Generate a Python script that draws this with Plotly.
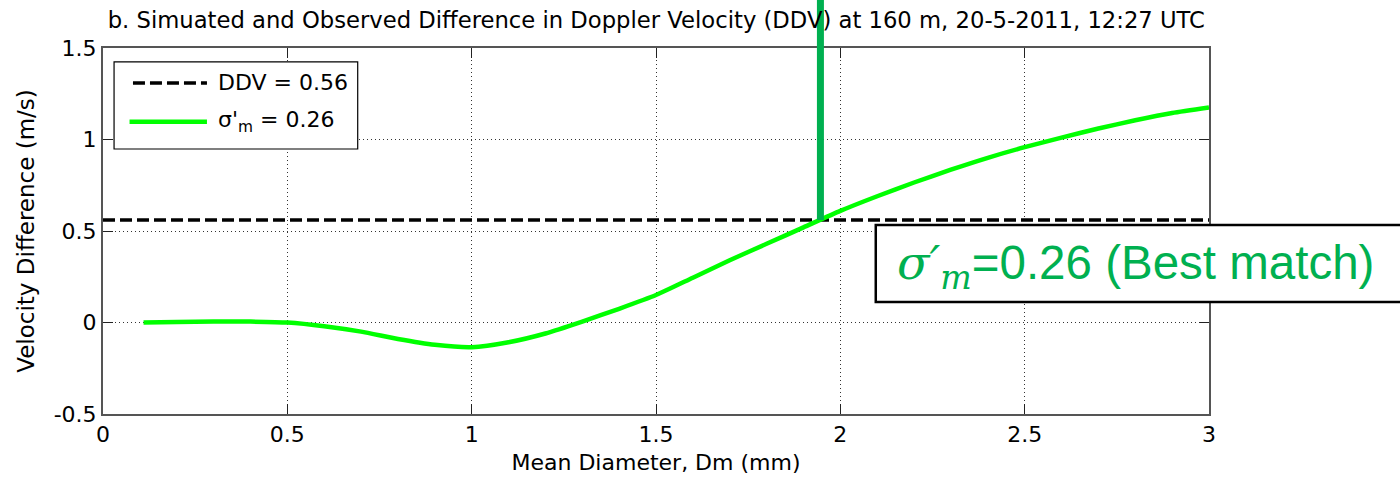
import plotly.graph_objects as go

# Simulated DDV curve vs. mean drop diameter
dm_mm = [0.11, 0.2, 0.3, 0.4, 0.5, 0.6, 0.7, 0.8, 0.9, 1.0, 1.1, 1.2, 1.3, 1.4, 1.5,
         1.6, 1.7, 1.8, 1.9, 2.0, 2.1, 2.2, 2.3, 2.4, 2.5, 2.6, 2.7, 2.8, 2.9, 3.0]
ddv_sim = [0.0, 0.003, 0.006, 0.005, 0.0, -0.02, -0.05, -0.09, -0.122, -0.135, -0.108, -0.06,
           0.005, 0.075, 0.15, 0.245, 0.34, 0.43, 0.52, 0.61, 0.69, 0.765, 0.835, 0.9, 0.958,
           1.01, 1.06, 1.105, 1.145, 1.175]

# Observed DDV and best-matching sigma'_m
ddv_obs = 0.56
sigma_m = 0.26
dm_best = 1.946

x_range = [0, 3]
y_range = [-0.5, 1.5]
x_ticks = [0, 0.5, 1, 1.5, 2, 2.5, 3]
y_ticks = [-0.5, 0, 0.5, 1, 1.5]

FONT = "DejaVu Sans"
GREEN_BAR = "#00B050"

fig = go.Figure()

fig.add_trace(go.Scatter(
    x=x_range, y=[ddv_obs, ddv_obs], mode="lines",
    line=dict(color="black", width=3.5, dash="12px,5px"),
    name=f"DDV = {ddv_obs}", showlegend=False, hoverinfo="skip"))

fig.add_trace(go.Scatter(
    x=dm_mm, y=ddv_sim, mode="lines",
    line=dict(color="#00FF00", width=4.5, shape="spline", smoothing=0.6),
    name=f"σ'<sub>m</sub> = {sigma_m}", showlegend=False))

def px_x(v):
    return (v - x_range[0]) / (x_range[1] - x_range[0])

def px_y(v):
    return (v - y_range[0]) / (y_range[1] - y_range[0])

shapes = []
annotations = []

# legend box drawn in paper coordinates
shapes.append(dict(type="rect", xref="paper", yref="paper", x0=0.0100, x1=0.2303,
                   y0=0.724, y1=0.962, line=dict(color="black", width=1.2),
                   fillcolor="white", layer="above"))
shapes.append(dict(type="line", xref="paper", yref="paper", x0=0.0271, x1=0.0940,
                   y0=0.9044, y1=0.9044,
                   line=dict(color="black", width=3.5, dash="12px,5px"), layer="above"))
shapes.append(dict(type="line", xref="paper", yref="paper", x0=0.0240, x1=0.0940,
                   y0=0.7987, y1=0.7987,
                   line=dict(color="#00FF00", width=4.5), layer="above"))
annotations.append(dict(xref="paper", yref="paper", x=0.1022, y=0.9044, xanchor="left",
                        yanchor="middle", showarrow=False, text=f"DDV = {ddv_obs}",
                        font=dict(family=FONT, size=22, color="black")))
annotations.append(dict(xref="paper", yref="paper", x=0.1022, y=0.8, xanchor="left",
                        yanchor="middle", showarrow=False,
                        text=f"σ'<sub>m</sub> = {sigma_m}",
                        font=dict(family=FONT, size=22, color="black")))

# best-match marker: vertical bar from the DDV level up past the top of the axes
shapes.append(dict(type="line", xref="paper", yref="paper",
                   x0=px_x(dm_best), x1=px_x(dm_best), y0=px_y(ddv_obs), y1=1.14,
                   line=dict(color=GREEN_BAR, width=7), layer="above"))

# callout box
shapes.append(dict(type="rect", xref="paper", yref="paper", x0=0.6987, x1=1.3,
                   y0=0.306, y1=0.5164, line=dict(color="black", width=2.5),
                   fillcolor="white", layer="above"))
annotations.append(dict(
    xref="paper", yref="paper", x=0.716, y=0.405, xanchor="left", yanchor="middle",
    showarrow=False,
    text=(f"<span style='font-family:DejaVu Serif'><i>σ′</i><sub><i>m</i></sub></span>"
          f"={sigma_m} (Best match)"),
    font=dict(family="Liberation Sans", size=47.5, color=GREEN_BAR)))

axis_common = dict(
    showline=True, linecolor="#555555", linewidth=2, mirror="ticks",
    ticks="inside", ticklen=10, tickwidth=1.3, tickcolor="#222222",
    showgrid=True, gridcolor="#333333", griddash="1px,3px", gridwidth=1,
    zeroline=False, tickfont=dict(family=FONT, size=22, color="black"),
)

fig.update_xaxes(range=x_range, tickvals=x_ticks, ticktext=[f"{t:g}" for t in x_ticks],
                 title=dict(text="Mean Diameter, Dm (mm)", standoff=8,
                            font=dict(family=FONT, size=22, color="black")),
                 **axis_common)
fig.update_yaxes(range=y_range, tickvals=y_ticks, ticktext=[f"{t:g}" for t in y_ticks],
                 title=dict(text="Velocity Difference (m/s)", standoff=13,
                            font=dict(family=FONT, size=23, color="black")),
                 **axis_common)

fig.update_layout(
    width=1400, height=481,
    margin=dict(l=103, r=191, t=48, b=67, autoexpand=False),
    paper_bgcolor="white", plot_bgcolor="white",
    title=dict(text="b. Simuated and Observed Difference in Doppler Velocity (DDV) at 160 m, "
                    "20-5-2011, 12:27 UTC",
               x=0.4688, xanchor="center", y=0.958, yanchor="middle",
               font=dict(family=FONT, size=22.7, color="black")),
    shapes=shapes, annotations=annotations, showlegend=False,
)

fig.write_html("out.html")
